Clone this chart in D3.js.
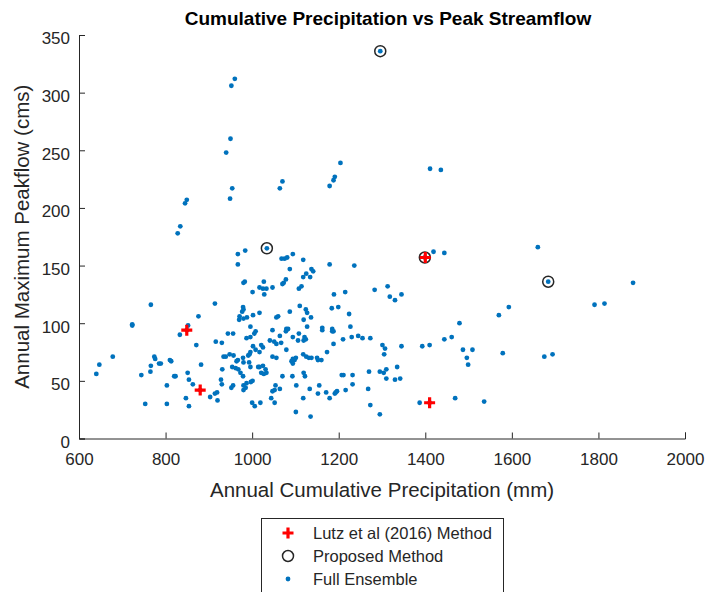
<!DOCTYPE html>
<html><head><meta charset="utf-8">
<script src="https://cdn.jsdelivr.net/npm/d3@7"></script>
<style>body{margin:0;background:#fff;}text{font-family:"Liberation Sans",Arial,sans-serif;}</style>
</head><body>
<svg id="chart" width="709" height="592"></svg>
<script>
const ensembleX = [960,952,950,940,954,949,1070,1064,849,845,834,828,
1296,1204,1191,1188,1179,1411,1436,
1660,1684,1880,1593,1570,1791,1814,1579,1675,1694,1536,
1068,1075,1081,1094,1118,1179,1236,1087,1137,1141,1125,1118,1134,1078,1073,1070,1114,1108,1399,1419,1444,
1189,1215,1283,1313,1318,1330,1345,1184,1199,1110,1124,1127,1136,1119,1087,1224,1227,1162,1162,1185,1185,1188,1127,
1079,1083,1078,1108,1121,1124,1119,1094,1064,1106,1067,1210,1230,1245,1255,1273,1188,1301,1307,1345,1393,1410,1444,1461,
1479,1487,1509,1496,1499,1079,1173,1305,1118,1125,1131,1137,1094,1098,1091,1101,1150,1152,1160,1094,1270,1295,1304,1310,1335,
1310,1330,1342,1119,1122,1207,1211,1232,1070,1093,1232,1102,1155,1064,1133,1216,1268,1152,1171,1193,1196,1191,1118,1179,1101,1135,
1273,1295,1387,1469,
1034,967,984,967,983,980,1027,1017,1025,1033,1047,1001,1028,766,914,979,980,977,971,970,980,988,1002,1017,1056,1060,723,723,876,852,833,
996,1008,1005,1047,944,956,987,996,916,930,871,1041,1051,1056,1002,1008,1021,1025,996,1017,647,640,678,774,776,766,765,785,789,810,813,
744,820,823,803,753,803,851,854,863,882,847,854,903,914,919,920,931,928,930,934,939,948,957,964,967,979,980,991,994,954,962,968,973,979,
996,993,1014,1017,1025,1021,1027,1033,1031,1047,1056,980,987,997,1001,956,952,980,985,1054,1052,1047,1044,1052,1000,1006,1019,
849,880,1410];
const ensembleY = [312,306,260,248,217,208,223,217,207,204,184,178,
336,239,227,224,219,234,233,
166,136,135,114,107,116,117,74,71,73,32,
156,156,157,160,155,151,150,147,147,145,143,140,140,138,135,134,132,130,157,162,161,
125,127,129,132,123,120,125,113,114,115,112,109,105,103,110,108,97,96,94,95,93,93,97,
95,95,93,91,88,86,85,88,89,85,83,86,88,89,87,87,82,81,78,80,80,81,86,88,
100,77,77,70,64,77,75,73,73,71,70,70,69,68,67,70,70,68,68,65,58,58,57,60,62,
52,51,52,57,54,55,55,55,54,54,47,46,46,43,43,42,43,39,40,40,41,39,35,35,23,19,
29,21,31,35,
165,160,163,151,136,135,136,131,130,130,131,127,125,116,117,114,112,110,106,103,104,105,107,109,105,106,99,98,106,98,90,
97,93,91,94,91,91,87,88,84,83,81,85,84,82,80,77,81,79,75,75,64,56,71,71,69,63,58,65,65,68,67,
55,54,54,46,30,30,57,51,47,64,35,28,36,39,40,33,60,51,47,71,71,73,72,67,68,70,66,72,73,62,61,60,57,54,
62,66,62,62,63,57,56,57,60,71,70,46,48,49,50,46,44,42,44,46,42,41,35,31,31,28,31,
94,42,31];
const lutzX = [849,880,1400,1410];
const lutzY = [94,42,157,31];
const proposedX = [1296,1034,1399,1684];
const proposedY = [336,165,157,136];
const xTicks = [600,800,1000,1200,1400,1600,1800,2000];
const yTicks = [0,50,100,150,200,250,300,350];

const svg = d3.select("#chart");
const L = 79, R = 685, T = 35, B = 438.5;
const x = d3.scaleLinear().domain([600,2000]).range([L,R]);
const y = d3.scaleLinear().domain([0,350]).range([B,T]);
const axColor = "#262626";
const FF = "'Liberation Sans',Arial,sans-serif";

const xAxis = d3.axisBottom(x).tickValues(xTicks).tickSize(-6).tickPadding(14).tickFormat(d3.format("d"));
const gx = svg.append("g").attr("transform",`translate(0,${B})`).call(xAxis);
const yAxis = d3.axisLeft(y).tickValues(yTicks).tickSize(-6).tickPadding(9).tickFormat(d3.format("d"));
const gy = svg.append("g").attr("transform",`translate(${L},0)`).call(yAxis);
[gx,gy].forEach(g=>{
  g.select(".domain").attr("stroke",axColor).attr("stroke-width",1);
  g.selectAll(".tick line").attr("stroke",axColor);
  g.selectAll(".tick text").attr("fill",axColor).style("font-size","17px").style("font-family",FF);
});
gy.selectAll(".tick text").attr("dy","0.52em");

const pts = ensembleX.map((v,i)=>[v,ensembleY[i]]);
svg.append("g").selectAll("circle").data(pts).join("circle")
  .attr("cx",d=>x(d[0])).attr("cy",d=>y(d[1])).attr("r",2.4).attr("fill","#0072BD");

const prop = proposedX.map((v,i)=>[v,proposedY[i]]);
svg.append("g").selectAll("circle").data(prop).join("circle")
  .attr("cx",d=>x(d[0])).attr("cy",d=>y(d[1])).attr("r",5.5).attr("fill","none")
  .attr("stroke","#262626").attr("stroke-width",1.5);

const lutz = lutzX.map((v,i)=>[v,lutzY[i]]);
const cs = 5.5;
svg.append("g").selectAll("path").data(lutz).join("path")
  .attr("d",d=>{const cx=x(d[0]),cy=y(d[1]);return `M${cx-cs},${cy}H${cx+cs}M${cx},${cy-cs}V${cy+cs}`;})
  .attr("stroke","#FF0000").attr("stroke-width",3.2).attr("fill","none");

svg.append("text").attr("x",(L+R)/2+6).attr("y",25).attr("text-anchor","middle")
  .style("font-size","19px").style("font-weight","bold").attr("fill","#000")
  .text("Cumulative Precipitation vs Peak Streamflow");
svg.append("text").attr("x",(L+R)/2).attr("y",497).attr("text-anchor","middle")
  .style("font-size","20.5px").attr("fill",axColor)
  .text("Annual Cumulative Precipitation (mm)");
svg.append("text").attr("transform",`translate(29,${(T+B)/2}) rotate(-90)`).attr("text-anchor","middle")
  .style("font-size","20.5px").attr("fill",axColor)
  .text("Annual Maximum Peakflow (cms)");

// legend
const lg = svg.append("g");
lg.append("rect").attr("x",261.5).attr("y",518.5).attr("width",242).attr("height",84)
  .attr("fill","#fff").attr("stroke",axColor).attr("stroke-width",1);
const ly = [533,556,579], mx = 288;
lg.append("path").attr("d",`M${mx-cs},${ly[0]}H${mx+cs}M${mx},${ly[0]-cs}V${ly[0]+cs}`)
  .attr("stroke","#FF0000").attr("stroke-width",3.2);
lg.append("circle").attr("cx",mx).attr("cy",ly[1]).attr("r",5.5).attr("fill","none").attr("stroke","#262626").attr("stroke-width",1.5);
lg.append("circle").attr("cx",mx).attr("cy",ly[2]).attr("r",2.4).attr("fill","#0072BD");
const labels = ["Lutz et al (2016) Method","Proposed Method","Full Ensemble"];
labels.forEach((t,i)=>lg.append("text").attr("x",313).attr("y",ly[i]).attr("dy","0.36em")
  .style("font-size","16.5px").attr("fill",axColor).text(t));
</script>
</body></html>
